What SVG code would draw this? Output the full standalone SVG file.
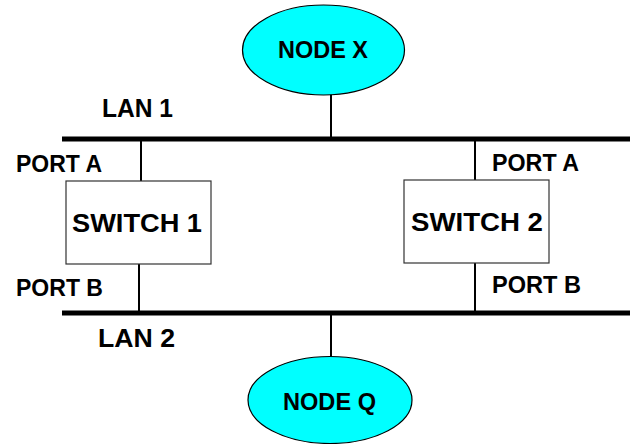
<svg xmlns="http://www.w3.org/2000/svg" width="630" height="444" viewBox="0 0 630 444">
<style>
text{font-family:"Liberation Sans",Arial,sans-serif;font-weight:bold;fill:#000}
.lan{stroke:#000;stroke-width:5;fill:none}
.link{stroke:#000;stroke-width:2;fill:none}
.node{fill:#00FFFF;stroke:#000;stroke-width:1.2}
.sw{fill:#fff;stroke:#333;stroke-width:1.2}
.port{font-size:23px}
.big{font-size:26px}
.nd{font-size:23px}
</style>
<rect width="630" height="444" fill="#fff"/>
<g id="connectors">
<line class="lan" x1="62" y1="139" x2="630" y2="139"/>
<line class="lan" x1="62" y1="313" x2="630" y2="313"/>
<line class="link" x1="331" y1="94" x2="331" y2="139"/>
<line class="link" x1="141" y1="139" x2="141" y2="181"/>
<line class="link" x1="139" y1="264" x2="139" y2="313"/>
<line class="link" x1="475" y1="139" x2="475" y2="180"/>
<line class="link" x1="475" y1="263" x2="475" y2="313"/>
<line class="link" x1="331" y1="313" x2="331" y2="357"/>
</g>
<g id="lan1"><text x="102" y="117" class="big" textLength="71" lengthAdjust="spacingAndGlyphs">LAN 1</text></g>
<g id="lan2"><text x="98" y="347" class="big" textLength="77" lengthAdjust="spacingAndGlyphs">LAN 2</text></g>
<g id="nodeX">
<ellipse class="node" cx="323.5" cy="50" rx="81" ry="45"/>
<text x="278" y="58" class="nd" textLength="90" lengthAdjust="spacingAndGlyphs">NODE X</text>
</g>
<g id="nodeQ">
<ellipse class="node" cx="330" cy="400" rx="82" ry="43.5"/>
<text x="283" y="410" class="nd" textLength="93" lengthAdjust="spacingAndGlyphs">NODE Q</text>
</g>
<g id="switch1">
<rect class="sw" x="66" y="181" width="145" height="83"/>
<text x="72" y="232" class="big" textLength="130" lengthAdjust="spacingAndGlyphs">SWITCH 1</text>
<text x="16" y="172" class="port" textLength="86" lengthAdjust="spacingAndGlyphs">PORT A</text>
<text x="16" y="296" class="port" textLength="87" lengthAdjust="spacingAndGlyphs">PORT B</text>
</g>
<g id="switch2">
<rect class="sw" x="404" y="180" width="145" height="83"/>
<text x="411" y="231" class="big" textLength="132" lengthAdjust="spacingAndGlyphs">SWITCH 2</text>
<text x="492" y="171" class="port" textLength="87" lengthAdjust="spacingAndGlyphs">PORT A</text>
<text x="492" y="293" class="port" textLength="89" lengthAdjust="spacingAndGlyphs">PORT B</text>
</g>
</svg>
